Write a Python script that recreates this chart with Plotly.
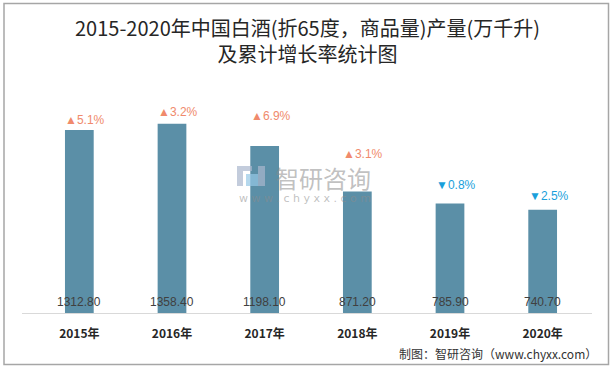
import plotly.graph_objects as go

years = ["2015年", "2016年", "2017年", "2018年", "2019年", "2020年"]
output = [1312.80, 1358.40, 1198.10, 871.20, 785.90, 740.70]
growth = [5.1, 3.2, 6.9, 3.1, -0.8, -2.5]

# layout-only: vertical offsets (px) of growth labels above bar tops
label_shift = [10, 12, 30, 38, 18, 14]

W, H = 613, 368
L, R, T, B = 33, 589, 86, 313
YMAX = (B - T) / 0.1394

def px(x):
    return (x - L) / (R - L)

def py(y):
    return (B - y) / (B - T)

fig = go.Figure()
fig.add_trace(go.Bar(
    x=years, y=output, width=0.31,
    marker=dict(color="#5B8FA7", line=dict(width=0)),
    textposition="none",
    hoverinfo="x+y",
))

ann = []
for yr, v in zip(years, output):
    ann.append(dict(x=yr, y=0, yref="y", text=f"{v:.2f}", showarrow=False,
                    yanchor="middle", yshift=11,
                    font=dict(family="Liberation Sans, Arial", size=12, color="#404040")))
for yr, v, g, s in zip(years, output, growth, label_shift):
    up = g >= 0
    ann.append(dict(x=yr, y=v, text=("▲" if up else "▼") + f"{abs(g):.1f}%",
                    showarrow=False, yanchor="middle", yshift=s, xshift=6,
                    font=dict(family="Liberation Sans, Arial", size=12,
                              color="#F08A6C" if up else "#1A9FDB")))

def paper_text(x, y, text, size, color, family="Noto Sans CJK SC", xanchor="center"):
    return dict(xref="paper", yref="paper", x=px(x), y=py(y), showarrow=False,
                xanchor=xanchor, yanchor="middle", text=text,
                font=dict(family=family, size=size, color=color))

# title (two lines)
ann.append(paper_text(307, 40.5, "2015-2020年中国白酒(折65度，商品量)产量(万千升)<br>及累计增长率统计图",
                      20, "#262626"))
# source
ann.append(paper_text(599, 353, "制图：智研咨询（www.chyxx.com）", 12, "#333333", xanchor="right"))
# watermark
ann.append(paper_text(323, 177, "智研咨询", 24, "rgba(140,140,140,0.55)"))
ann.append(paper_text(305, 198, "w w w . c h y x x . c o m", 11, "rgba(140,140,140,0.55)", family="DejaVu Sans"))

shapes = [
    dict(type="rect", xref="paper", yref="paper", x0=px(4), x1=px(608.5), y0=py(3.5), y1=py(364.5),
         line=dict(color="#A6A6A6", width=1.5), fillcolor="rgba(0,0,0,0)", layer="above"),
    dict(type="line", xref="paper", yref="paper", x0=px(22), x1=px(592), y0=py(313.5), y1=py(313.5),
         line=dict(color="#D9D9D9", width=1)),
    # watermark icon
    dict(type="rect", xref="paper", yref="paper", x0=px(237), x1=px(252), y0=py(166), y1=py(171),
         line=dict(width=0), fillcolor="rgba(170,182,205,0.7)", layer="above"),
    dict(type="rect", xref="paper", yref="paper", x0=px(237), x1=px(243), y0=py(171), y1=py(186),
         line=dict(width=0), fillcolor="rgba(170,182,205,0.7)", layer="above"),
    dict(type="rect", xref="paper", yref="paper", x0=px(246), x1=px(258), y0=py(174), y1=py(186),
         line=dict(width=0), fillcolor="rgba(150,200,230,0.7)", layer="above"),
    dict(type="rect", xref="paper", yref="paper", x0=px(258), x1=px(265), y0=py(166), y1=py(186),
         line=dict(width=0), fillcolor="rgba(170,182,205,0.7)", layer="above"),
]

fig.update_layout(
    width=W, height=H,
    margin=dict(l=L, r=W - R, t=T, b=H - B, pad=0),
    paper_bgcolor="white", plot_bgcolor="white",
    showlegend=False,
    annotations=ann, shapes=shapes,
    xaxis=dict(tickmode="array", tickvals=years, ticktext=[f"<b>{y}</b>" for y in years],
               tickfont=dict(family="Noto Sans CJK SC", size=12, color="#262626"),
               ticks="outside", ticklen=10, tickcolor="rgba(0,0,0,0)",
               showline=False, showgrid=False, zeroline=False),
    yaxis=dict(range=[0, YMAX], visible=False, showgrid=False, zeroline=False),
)

fig.write_html("out.html", config={"displayModeBar": False},
               post_script="document.body.style.margin='0';document.body.style.overflow='hidden';")
